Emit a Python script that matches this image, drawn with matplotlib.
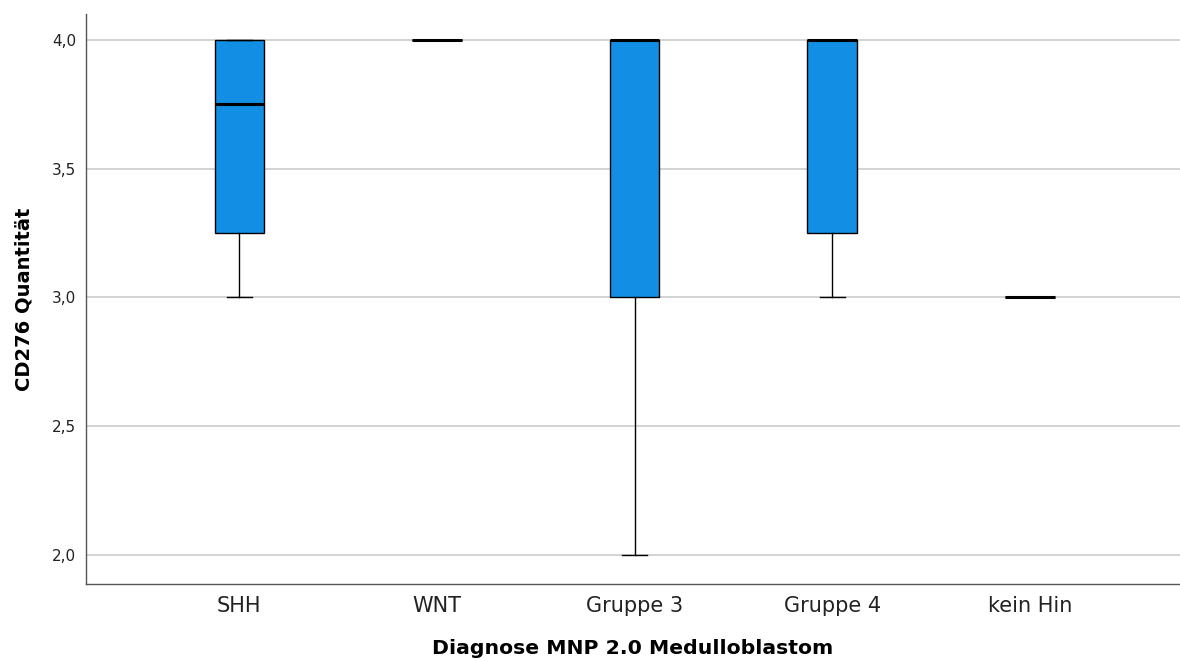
import matplotlib
matplotlib.use("Agg")
import matplotlib.pyplot as plt

categories = ["SHH", "WNT", "Gruppe 3", "Gruppe 4", "kein Hin"]
whislo = [3.0, 4.0, 2.0, 3.0, 3.0]
q1 = [3.25, 4.0, 3.0, 3.25, 3.0]
med = [3.75, 4.0, 4.0, 4.0, 3.0]
q3 = [4.0, 4.0, 4.0, 4.0, 3.0]
whishi = [4.0, 4.0, 4.0, 4.0, 3.0]
yticks = [2.0, 2.5, 3.0, 3.5, 4.0]
ytick_labels = ["2,0", "2,5", "3,0", "3,5", "4,0"]

plt.rcParams['font.family'] = ['DejaVu Sans']

fig = plt.figure(figsize=(11.8, 6.61), dpi=100)
ax = fig.add_axes([86/1180, 77/661, 1 - 86/1180, (584-14)/661])

stats = []
for i, c in enumerate(categories):
    stats.append(dict(label=c, whislo=whislo[i], q1=q1[i], med=med[i],
                      q3=q3[i], whishi=whishi[i], fliers=[]))

ax.bxp(stats, positions=range(len(categories)), widths=0.25,
       patch_artist=True, showfliers=False,
       boxprops=dict(facecolor="#128ee4", edgecolor="black", linewidth=1.0),
       medianprops=dict(color="black", linewidth=2.2, solid_capstyle='butt'),
       whiskerprops=dict(color="black", linewidth=1.0),
       capprops=dict(color="black", linewidth=1.0),
       capwidths=0.125, zorder=3)

ax.set_xlim(-0.776, 4.76)
ax.set_ylim(1.887, 4.101)
ax.set_yticks(yticks)
ax.set_yticklabels(ytick_labels, fontsize=11, color="#222222")
ax.set_xticks(range(len(categories)))
ax.set_xticklabels(categories, fontsize=15, color="#222222")
ax.tick_params(axis='both', length=0)
ax.tick_params(axis='y', pad=7)
ax.tick_params(axis='x', pad=9)
ax.yaxis.grid(True, color="#cccccc", linewidth=1.2, zorder=0)
ax.set_axisbelow(True)
for s in ["top", "right"]:
    ax.spines[s].set_visible(False)
for s in ["left", "bottom"]:
    ax.spines[s].set_color("#555555")
    ax.spines[s].set_linewidth(1.0)

ax.set_xlabel("Diagnose MNP 2.0 Medulloblastom", fontsize=14.7, fontweight="bold", labelpad=16)
ax.set_ylabel("CD276 Quantität", fontsize=14, fontweight="bold", labelpad=13)

fig.savefig("out.png", dpi=100)
